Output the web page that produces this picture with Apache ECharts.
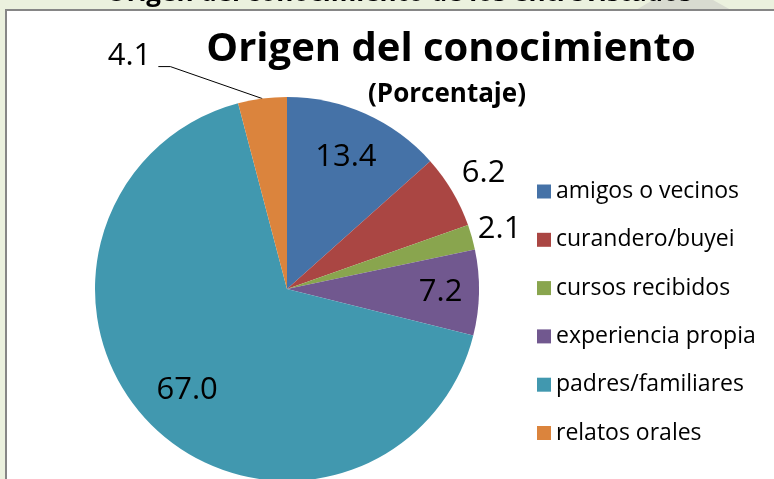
<!DOCTYPE html>
<html>
<head>
<meta charset="utf-8">
<script src="https://cdn.jsdelivr.net/npm/echarts@6/dist/echarts.min.js"></script>
<style>
html,body{margin:0;padding:0;background:#ebf1de;}
#chart{width:774px;height:479px;}
</style>
</head>
<body>
<div id="chart"></div>
<script>
// ---- data ----
const categories = ['amigos o vecinos', 'curandero/buyei', 'cursos recibidos', 'experiencia propia', 'padres/familiares', 'relatos orales'];
const values = [13.4, 6.2, 2.1, 7.2, 67.0, 4.1];
const colors = ['#4572a7', '#aa4643', '#89a54e', '#71588f', '#4198af', '#db843d'];
const mainTitle = 'Origen del conocimiento';
const subTitle = '(Porcentaje)';
const outerTitle = 'Origen del conocimiento de los entrevistados';

// ---- layout ----
const FONT = 'Open Sans';
const CX = 287, CY = 289, R = 192;
const labelRadius = [0.75, 1.19, 1.15, 0.80, 0.74]; // fraction of radius for value labels

const total = values.reduce((a, b) => a + b, 0);
const midAngles = [];
let acc = 0;
values.forEach(v => { midAngles.push((acc + v / 2) / total * 2 * Math.PI); acc += v; });

const chart = echarts.init(document.getElementById('chart'), null, {renderer: 'canvas'});
chart.setOption({
  backgroundColor: '#ebf1de',
  animation: false,
  graphic: [
    {type: 'polygon', shape: {points: [[653, 0], [713, 0], [731, 10], [636, 10]]}, style: {fill: '#d8dbd0'}, z: 0},
    {type: 'text', x: 399, y: -6, style: {text: outerTitle, fill: '#000', font: 'bold 26px "Open Sans"', align: 'center', verticalAlign: 'middle'}, z: 0},
    {type: 'rect', shape: {x: 6, y: 10, width: 800, height: 500}, style: {fill: '#ffffff', stroke: '#868686', lineWidth: 2}, z: 1}
  ],
  title: [
    {text: mainTitle, left: 446, top: 25, textAlign: 'center',
     textStyle: {fontFamily: FONT, fontWeight: 'bold', fontSize: 40, color: '#000'}},
    {text: subTitle, left: 442, top: 77, textAlign: 'center',
     textStyle: {fontFamily: FONT, fontWeight: 'bold', fontSize: 26, color: '#000'}}
  ],
  legend: {
    orient: 'vertical', left: 532, top: 175,
    icon: 'rect', itemWidth: 14, itemHeight: 14, itemGap: 25.3,
    textStyle: {fontFamily: FONT, fontSize: 23, color: '#000'},
    data: categories
  },
  series: [{
    type: 'pie',
    center: [CX, CY],
    radius: [0, R],
    startAngle: 90,
    clockwise: true,
    avoidLabelOverlap: false,
    color: colors,
    itemStyle: {borderWidth: 0},
    label: {show: true, position: 'inside', fontFamily: FONT, fontSize: 31, color: '#000',
            formatter: p => p.value.toFixed(1)},
    labelLine: {show: false},
    data: categories.map((c, i) => i === 5 ? {
      name: c, value: values[i],
      label: {position: 'outside'},
      labelLine: {show: true, length: 10, length2: 10, lineStyle: {color: '#000', width: 1}}
    } : {name: c, value: values[i]}),
    labelLayout: function (params) {
      const i = params.dataIndex;
      const a = midAngles[i];
      if (i !== 5) {
        const k = labelRadius[i];
        return {x: CX + k * R * Math.sin(a), y: CY - k * R * Math.cos(a), align: 'center', verticalAlign: 'middle'};
      }
      const A = [CX + R * Math.sin(a), CY - R * Math.cos(a)];
      const B = [A[0] - 92, A[1] - 32];
      const C = [B[0] - 12, B[1]];
      return {x: C[0] - 7, y: C[1] - 10, align: 'right', verticalAlign: 'middle', labelLinePoints: [A, B, C]};
    }
  }]
});
</script>
</body>
</html>
